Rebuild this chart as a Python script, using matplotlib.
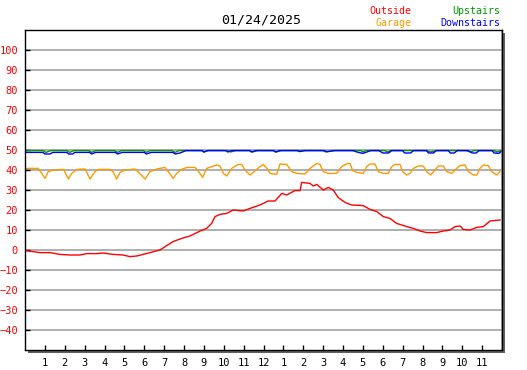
import matplotlib
matplotlib.use("Agg")
import matplotlib.pyplot as plt
from matplotlib.patches import Rectangle

title = "01/24/2025"
hour_labels = ["1", "2", "3", "4", "5", "6", "7", "8", "9", "10", "11", "12",
               "1", "2", "3", "4", "5", "6", "7", "8", "9", "10", "11"]

outside_h = [0.05, 0.75, 1.26, 1.76, 2.26, 2.77, 3.10, 3.61, 3.92, 4.43, 4.93, 5.28,
             5.62, 5.94, 6.29, 6.79, 7.13, 7.45, 7.80, 8.05, 8.30, 8.81, 9.14, 9.39,
             9.56, 9.81, 10.15, 10.48, 10.98, 11.32, 11.82, 12.24, 12.58, 12.92, 13.17,
             13.58, 13.84, 13.92, 14.34, 14.51, 14.68, 15.01, 15.26, 15.51, 15.76, 16.10,
             16.44, 17.02, 17.36, 17.70, 18.03, 18.36, 18.70, 19.21, 19.54, 19.87, 20.21,
             20.71, 21.05, 21.38, 21.64, 21.89, 22.05, 22.39, 22.73, 23.06, 23.40, 23.90]
outside_v = [-0.3, -1.3, -1.3, -2.2, -2.5, -2.5, -1.8, -1.8, -1.5, -2.2, -2.5, -3.3,
             -3.0, -2.2, -1.3, 0.0, 2.2, 4.2, 5.5, 6.3, 7.0, 9.5, 10.8, 13.3,
             16.7, 17.8, 18.3, 20.0, 19.5, 20.8, 22.5, 24.5, 24.5, 28.3, 27.5,
             29.7, 29.7, 33.8, 33.3, 32.0, 32.8, 30.0, 31.3, 30.0, 26.2, 23.8,
             22.5, 22.2, 20.3, 19.2, 16.7, 15.8, 13.3, 11.7, 10.8, 9.5, 8.7,
             8.7, 9.5, 10.0, 11.7, 12.0, 10.3, 10.0, 11.3, 11.7, 14.5, 15.0]

garage_h = [0.05, 0.67, 0.84, 1.01, 1.17, 1.42, 1.93, 2.01, 2.18, 2.35, 2.60, 3.02,
            3.10, 3.27, 3.52, 3.69, 4.28, 4.44, 4.61, 4.78, 5.03, 5.53, 5.70, 6.04,
            6.29, 6.63, 7.04, 7.21, 7.46, 7.63, 7.88, 8.14, 8.55, 8.72, 8.94, 9.14,
            9.65, 9.81, 9.98, 10.15, 10.40, 10.73, 10.90, 11.07, 11.32, 11.57, 11.82,
            11.99, 12.16, 12.33, 12.66, 12.75, 12.83, 13.17, 13.42, 13.67, 14.09, 14.34,
            14.68, 14.84, 15.01, 15.26, 15.68, 15.93, 16.18, 16.35, 16.49, 16.69, 17.02,
            17.19, 17.36, 17.61, 17.78, 18.03, 18.28, 18.45, 18.62, 18.87, 19.00, 19.20,
            19.37, 19.54, 19.79, 20.04, 20.21, 20.41, 20.63, 20.80, 21.05, 21.22, 21.47,
            21.72, 21.89, 22.14, 22.31, 22.56, 22.73, 22.89, 23.06, 23.31, 23.48, 23.73,
            23.90]
garage_v = [40.8, 40.8, 38.3, 35.8, 39.2, 40.0, 40.3, 39.0, 35.5, 38.3, 40.3, 40.5,
            39.0, 35.5, 39.2, 40.3, 40.3, 39.0, 35.5, 38.7, 40.0, 40.5, 39.0, 35.5,
            39.2, 40.5, 41.3, 39.2, 35.8, 38.3, 40.3, 41.3, 41.3, 39.5, 36.3, 40.8,
            42.5, 42.0, 38.3, 37.0, 40.8, 42.8, 42.8, 40.0, 37.5, 39.5, 41.7,
            42.8, 41.0, 38.3, 37.8, 40.5, 43.0, 42.8, 39.2, 38.3, 38.0, 40.8,
            43.3, 42.8, 39.2, 38.3, 38.3, 41.7, 43.0, 43.3, 39.7, 38.8, 38.3,
            41.7, 43.0, 43.0, 39.2, 38.3, 38.3, 41.7, 42.8, 42.8, 39.2, 37.5,
            38.3, 40.8, 42.0, 42.0, 39.2, 37.5, 40.0, 42.0, 42.0, 39.2, 38.3,
            40.8, 42.2, 42.5, 39.2, 37.5, 37.5, 40.8, 42.5, 42.2, 39.2, 37.5,
            39.2]

upstairs_h = [0.0, 0.9, 1.05, 1.3, 2.1, 2.25, 2.45, 3.2, 3.35, 3.55, 4.5, 4.65, 4.85,
              5.95, 6.1, 6.3, 7.4, 7.55, 7.75, 8.9, 9.0, 9.2, 10.2, 10.35, 10.6, 11.3,
              11.45, 11.7, 12.5, 12.65, 12.9, 15.0, 15.15, 15.5, 16.9, 17.0, 17.15,
              18.1, 18.25, 18.4, 20.2, 20.4, 20.7, 22.2, 22.4, 22.6, 23.6, 23.75, 23.95]
upstairs_v = [49.7, 49.7, 48.8, 49.7, 49.7, 48.8, 49.7, 49.7, 48.8, 49.7, 49.7, 48.8, 49.7,
              49.7, 48.8, 49.7, 49.7, 48.8, 49.7, 49.7, 49.0, 49.7, 49.7, 49.0, 49.7, 49.7,
              49.0, 49.7, 49.7, 49.0, 49.7, 49.7, 49.0, 49.7, 49.7, 49.0, 49.7,
              49.7, 49.0, 49.7, 49.7, 49.0, 49.7, 49.7, 49.0, 49.7, 49.7, 49.0, 49.7]

downstairs_h = [0.0, 0.9, 1.0, 1.25, 1.4, 2.1, 2.2, 2.4, 2.5, 3.25, 3.35, 3.55, 4.55,
                4.65, 4.9, 6.0, 6.1, 6.35, 7.45, 7.55, 7.8, 8.1, 8.9, 9.0, 9.2, 10.1,
                10.2, 10.4, 11.3, 11.4, 11.6, 12.5, 12.6, 12.8, 13.7, 13.8, 14.1, 15.0,
                15.2, 15.6, 16.5, 16.7, 17.0, 17.2, 17.4, 17.8, 18.0, 18.3, 18.45, 19.0,
                19.1, 19.4, 19.55, 20.2, 20.3, 20.55, 20.7, 21.3, 21.4, 21.6, 21.75, 22.3,
                22.5, 22.7, 22.85, 23.5, 23.6, 23.85, 23.95]
downstairs_v = [48.8, 48.8, 48.0, 48.0, 48.8, 48.8, 48.0, 48.0, 48.8, 48.8, 48.0, 48.8, 48.8,
                48.0, 48.8, 48.8, 48.0, 48.8, 48.8, 48.0, 48.5, 49.7, 49.7, 49.0, 49.7, 49.7,
                49.0, 49.7, 49.7, 49.0, 49.7, 49.7, 49.0, 49.7, 49.7, 49.2, 49.7, 49.7,
                49.2, 49.7, 49.7, 49.0, 48.3, 49.0, 49.7, 49.7, 48.5, 48.5, 49.7, 49.7,
                48.5, 48.5, 49.7, 49.7, 48.5, 48.5, 49.7, 49.7, 48.5, 48.5, 49.7, 49.7,
                48.5, 48.5, 49.7, 49.7, 48.5, 48.3, 49.2]

W, H = 527, 370
fig = plt.figure(figsize=(W / 100, H / 100), dpi=100)
left, right, top, bottom = 25, 502, 30, 350
ax = fig.add_axes([left / W, (H - bottom) / H, (right - left) / W, (bottom - top) / H])

# drop shadow right/bottom of the plot box
shadow = Rectangle(((left + 3) / W, (H - bottom - 3) / H), (right - left) / W, (bottom - top) / H,
                   transform=fig.transFigure, facecolor="#606060", edgecolor="none", zorder=-1)
fig.patches.append(shadow)

ax.plot(outside_h, outside_v, color="#ff0000", lw=1.0)
ax.plot(garage_h, garage_v, color="#ff9900", lw=1.0)
ax.plot(upstairs_h, upstairs_v, color="#009900", lw=1.0)
ax.plot(downstairs_h, downstairs_v, color="#0000ff", lw=1.0)

ax.set_xlim(0, 24)
ax.set_ylim(-50, 110)
ax.set_xticks(range(1, 24))
ax.set_xticklabels(hour_labels)
ax.set_xticks(range(0, 25), minor=True)
ax.set_yticks(range(-40, 101, 10))
ax.grid(True, which="minor", axis="x", color="#a8a8a8", lw=1.3)
ax.grid(True, which="major", axis="y", color="#a8a8a8", lw=1.3)
ax.set_axisbelow(True)
ax.tick_params(axis="x", which="minor", length=0)
ax.tick_params(axis="x", which="major", direction="in", length=3.5, width=1,
               labelsize=7.5, pad=6, colors="black")
ax.tick_params(axis="y", direction="in", length=3.5, width=1, labelsize=7.5,
               pad=5, labelcolor="#ff0000")
for lab in ax.get_xticklabels() + ax.get_yticklabels():
    lab.set_family("DejaVu Sans Mono")
for sp in ax.spines.values():
    sp.set_color("black")
    sp.set_linewidth(1)

fig.text(261 / W, 1 - 20 / H, title, ha="center", va="center",
         family="DejaVu Sans Mono", fontsize=9.5)
legend = [("Outside", "#ff0000", 411, 11), ("Garage", "#ff9900", 411, 23),
          ("Upstairs", "#009900", 500, 11), ("Downstairs", "#0000ff", 500, 23)]
for name, col, x, y in legend:
    fig.text(x / W, 1 - y / H, name, ha="right", va="center", color=col,
             family="DejaVu Sans Mono", fontsize=7.2)

fig.savefig("out.png", dpi=100)
